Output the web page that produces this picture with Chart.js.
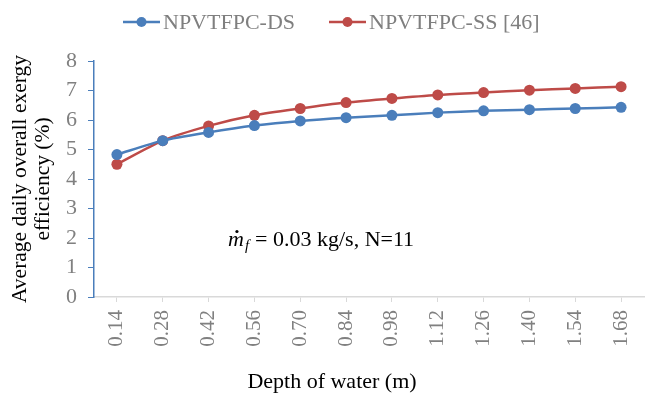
<!DOCTYPE html>
<html>
<head>
<meta charset="utf-8">
<script src="https://cdn.jsdelivr.net/npm/chart.js@4"></script>
<style>
  html, body { margin: 0; padding: 0; background: #fff; }
  #wrap { width: 651px; height: 398px; }
</style>
</head>
<body>
<div id="wrap"><canvas id="exergyChart" width="651" height="398"></canvas></div>
<script>
// Depth of water (m) categories
const depths = ["0.14", "0.28", "0.42", "0.56", "0.70", "0.84", "0.98", "1.12", "1.26", "1.40", "1.54", "1.68"];

// Average daily overall exergy efficiency (%)
const dsValues = [4.83, 5.30, 5.58, 5.81, 5.97, 6.08, 6.16, 6.25, 6.31, 6.35, 6.39, 6.43];
const ssValues = [4.50, 5.30, 5.80, 6.16, 6.39, 6.59, 6.73, 6.85, 6.93, 7.01, 7.07, 7.13];

const seriesNames = ["NPVTFPC-DS", "NPVTFPC-SS [46]"];
const yTicks = [0, 1, 2, 3, 4, 5, 6, 7, 8];
const xTitle = "Depth of water (m)";
const yTitle = ["Average daily overall exergy", "efficiency (%)"];

const blue = "#4a7ebb";
const red = "#be4b48";
const serif = "'Liberation Serif', 'Times New Roman', serif";

// custom legend: line + marker, like Excel
const legendPlugin = {
  id: "excelLegend",
  afterDraw(chart) {
    const c = chart.ctx;
    const items = [{ x: 123, ds: chart.data.datasets[0] }, { x: 329, ds: chart.data.datasets[1] }];
    c.save();
    c.font = "22px " + serif;
    c.textBaseline = "middle";
    items.forEach(it => {
      const y = 22;
      c.strokeStyle = it.ds.borderColor;
      c.lineWidth = 2.5;
      c.beginPath();
      c.moveTo(it.x, y);
      c.lineTo(it.x + 37, y);
      c.stroke();
      c.fillStyle = it.ds.borderColor;
      c.beginPath();
      c.arc(it.x + 18.5, y, 5, 0, Math.PI * 2);
      c.fill();
      c.fillStyle = "#7f7f7f";
      c.fillText(it.ds.label, it.x + 40, y + 1);
    });
    c.restore();
  }
};

// annotation text inside the plot + x axis title
const notePlugin = {
  id: "note",
  afterDraw(chart) {
    const c = chart.ctx;
    c.save();
    c.fillStyle = "#000";
    c.textBaseline = "alphabetic";
    let x = 228, y = 246;
    c.font = "italic 22px " + serif;
    c.fillText("m", x, y);
    const mw = c.measureText("m").width;
    // dot above m
    c.beginPath();
    c.arc(x + mw / 2 + 1, y - 14.5, 1.6, 0, Math.PI * 2);
    c.fill();
    x += mw;
    c.font = "italic 15px " + serif;
    c.fillText("f", x + 1, y + 4);
    x += c.measureText("f").width + 7;
    c.font = "22px " + serif;
    c.fillText("= 0.03 kg/s, N=11", x, y);

    c.textAlign = "center";
    c.textBaseline = "middle";
    c.fillText(xTitle, 332, 382);
    c.restore();
  }
};

const ctx = document.getElementById("exergyChart").getContext("2d");
const chart = new Chart(ctx, {
  type: "line",
  data: {
    labels: depths,
    datasets: [
      {
        label: seriesNames[0],
        data: dsValues,
        borderColor: blue,
        backgroundColor: blue,
        borderWidth: 2.5,
        pointRadius: 5.5,
        pointHoverRadius: 5.5,
        pointBorderWidth: 0,
        tension: 0.25,
      },
      {
        label: seriesNames[1],
        data: ssValues,
        borderColor: red,
        backgroundColor: red,
        borderWidth: 2.5,
        pointRadius: 5.5,
        pointHoverRadius: 5.5,
        pointBorderWidth: 0,
        tension: 0.25,
      },
    ],
  },
  options: {
    responsive: false,
    animation: false,
    layout: { padding: { top: 61, right: 7, left: 0, bottom: 0 } },
    plugins: {
      legend: { display: false },
      tooltip: { enabled: false },
    },
    scales: {
      x: {
        offset: true,
        grid: { offset: false, drawOnChartArea: false, drawTicks: true, tickLength: 5, color: "#d9d9d9" },
        border: { color: "#d9d9d9", width: 1.5 },
        ticks: {
          minRotation: 90,
          maxRotation: 90,
          padding: 8,
          color: "#808080",
          font: { family: serif, size: 21 },
        },
        afterFit(scale) {
          scale.height = 101;
          scale.paddingLeft = 0;
          scale.paddingRight = 0;
        },
      },
      y: {
        min: 0,
        max: 8,
        afterBuildTicks(scale) { scale.ticks = yTicks.map(v => ({ value: v })); },
        grid: { drawOnChartArea: false, drawTicks: true, tickLength: 6, color: blue },
        border: { color: blue, width: 1.5 },
        ticks: {
          padding: 11,
          color: "#808080",
          font: { family: serif, size: 22 },
        },
        title: {
          display: true,
          text: yTitle,
          color: "#000",
          font: { family: serif, size: 21.5, lineHeight: 1.05 },
          padding: { top: 9, bottom: 0 },
        },
        afterFit(scale) { scale.width = 94; },
      },
    },
  },
  plugins: [legendPlugin, notePlugin],
});
</script>
</body>
</html>
